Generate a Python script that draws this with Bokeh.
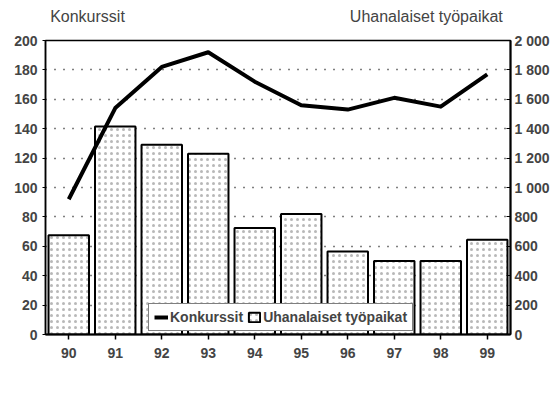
from bokeh.plotting import figure
from bokeh.models import (Range1d, FactorRange, LinearAxis, FixedTicker,
                          Legend, LegendItem, ColumnDataSource)
from bokeh.embed import file_html
from bokeh.resources import INLINE

years = ["90", "91", "92", "93", "94", "95", "96", "97", "98", "99"]
konkurssit = [92, 154, 182, 192, 172, 156, 153, 161, 155, 177]
tyopaikat = [675, 1415, 1290, 1230, 725, 820, 565, 500, 500, 645]
left_ticks = [0, 20, 40, 60, 80, 100, 120, 140, 160, 180, 200]
right_ticks = [0, 200, 400, 600, 800, 1000, 1200, 1400, 1600, 1800, 2000]
right_labels = ["0", "200", "400", "600", "800", "1 000", "1 200", "1 400",
                "1 600", "1 800", "2 000"]
title_left = "Konkurssit"
title_right = "Uhanalaiset työpaikat"

FONT = "Liberation Sans"

p = figure(x_range=FactorRange(*years, range_padding=0),
           y_range=Range1d(0, 200),
           frame_width=465, frame_height=294,
           min_border_left=45, min_border_top=40, min_border_bottom=40,
           min_border_right=10,
           output_backend="svg", toolbar_location=None)
p.extra_y_ranges = {"right": Range1d(0, 2000)}

p.outline_line_color = "black"
p.outline_line_width = 1.5
p.background_fill_color = "white"
p.border_fill_color = "white"

# grid
p.xgrid.grid_line_color = None
p.ygrid.ticker = FixedTicker(ticks=left_ticks)
p.ygrid.grid_line_color = "black"
p.ygrid.grid_line_dash = "1 8"
p.ygrid.grid_line_width = 1.5

src = ColumnDataSource(dict(x=years, k=konkurssit, t=tyopaikat))

bars = p.vbar(x="x", top="t", width=0.87, source=src, y_range_name="right",
              fill_color="white", line_color="black", line_width=2,
              hatch_pattern="dot", hatch_color="#333333", hatch_alpha=0.35,
              hatch_scale=6, hatch_weight=1)
line = p.line(x="x", y="k", source=src, line_color="black", line_width=4,
              line_join="round")

# axes
xa = p.xaxis[0]
xa.axis_line_color = "black"
xa.axis_line_width = 2
xa.major_tick_out = 5
xa.major_tick_in = 0
xa.major_tick_line_width = 1.5
xa.major_label_text_font = FONT
xa.major_label_text_font_style = "bold"
xa.major_label_text_font_size = "14px"
xa.major_label_standoff = 8

ya = p.yaxis[0]
ya.ticker = FixedTicker(ticks=left_ticks)
ya.axis_line_width = 1.5
ya.major_tick_out = 3
ya.major_tick_in = 0
ya.minor_tick_line_color = None
ya.major_label_text_font = FONT
ya.major_label_text_font_style = "bold"
ya.major_label_text_font_size = "14px"
ya.major_label_standoff = 5

ra = LinearAxis(y_range_name="right", ticker=FixedTicker(ticks=right_ticks))
ra.major_label_overrides = {t: l for t, l in zip(right_ticks, right_labels)}
ra.axis_line_width = 2
ra.major_tick_out = 0
ra.major_tick_in = 4
ra.minor_tick_line_color = None
ra.major_label_text_font = FONT
ra.major_label_text_font_style = "bold"
ra.major_label_text_font_size = "14px"
ra.major_label_standoff = 4
p.add_layout(ra, "right")

# titles above the plot, drawn as labels of an invisible top axis
# (positions in the categorical axis' synthetic coordinates)
title_pos = [0.903, 8.19]
ta = LinearAxis(ticker=FixedTicker(ticks=title_pos))
ta.major_label_overrides = {title_pos[0]: title_left, title_pos[1]: title_right}
ta.axis_line_color = None
ta.major_tick_line_color = None
ta.minor_tick_line_color = None
ta.major_label_text_font = FONT
ta.major_label_text_font_size = "16px"
ta.major_label_standoff = 10
p.add_layout(ta, "above")

legend = Legend(items=[LegendItem(label="Konkurssit", renderers=[line]),
                       LegendItem(label="Uhanalaiset työpaikat", renderers=[bars])],
                orientation="horizontal", location=(103, 3))
legend.border_line_color = "black"
legend.border_line_width = 1.5
legend.background_fill_color = "white"
legend.background_fill_alpha = 1.0
legend.label_text_font = FONT
legend.label_text_font_style = "bold"
legend.label_text_font_size = "14px"
legend.label_height = 16
legend.glyph_width = 14
legend.glyph_height = 12
legend.label_standoff = 2
legend.spacing = 4
legend.padding = 5
legend.margin = 0
p.add_layout(legend, "center")

open("out.html", "w").write(file_html(p, INLINE))
